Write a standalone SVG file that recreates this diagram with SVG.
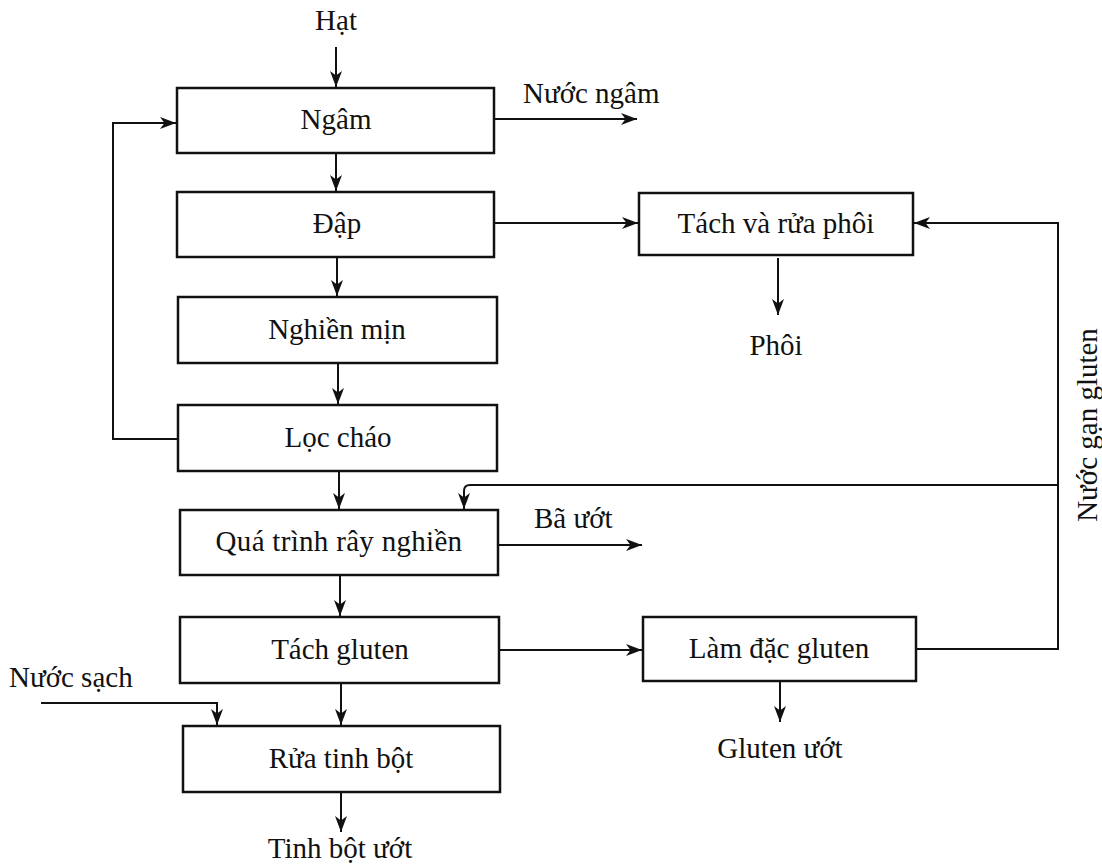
<svg xmlns="http://www.w3.org/2000/svg" width="1102" height="867" viewBox="0 0 1102 867">
<style>
.box{fill:#fff;stroke:#111;stroke-width:2.5}
.t{font-family:"Liberation Serif","Times New Roman",serif;font-size:29px;fill:#111}
.m{text-anchor:middle}
.c{fill:none;stroke:#111;stroke-width:2}
</style>
<defs>
<marker id="ah" markerUnits="userSpaceOnUse" markerWidth="18" markerHeight="14" refX="16" refY="6" orient="auto">
<path d="M0,0 L16,6 L0,12 L4.5,6 z" fill="#111"/>
</marker>
</defs>
<rect width="1102" height="867" fill="#fff"/>
<g id="connectors">
<path class="c" d="M336,47 V87" marker-end="url(#ah)"/>
<path class="c" d="M336,153 V191" marker-end="url(#ah)"/>
<path class="c" d="M337,257 V296" marker-end="url(#ah)"/>
<path class="c" d="M338,363 V404" marker-end="url(#ah)"/>
<path class="c" d="M339,471 V509" marker-end="url(#ah)"/>
<path class="c" d="M340,575 V616" marker-end="url(#ah)"/>
<path class="c" d="M341,683 V725" marker-end="url(#ah)"/>
<path class="c" d="M341,792 V832" marker-end="url(#ah)"/>
<path class="c" d="M178,439 H113 V123 H176" marker-end="url(#ah)"/>
<path class="c" d="M494,119 H637" marker-end="url(#ah)"/>
<path class="c" d="M494,223 H638" marker-end="url(#ah)"/>
<path class="c" d="M778,258 V315" marker-end="url(#ah)"/>
<path class="c" d="M498,545 H642" marker-end="url(#ah)"/>
<path class="c" d="M499,650 H642" marker-end="url(#ah)"/>
<path class="c" d="M780,681 V722" marker-end="url(#ah)"/>
<path class="c" d="M916,649 H1058 V223 H914" marker-end="url(#ah)"/>
<path class="c" d="M1058,485 H470 Q464,485 464,491 V509" marker-end="url(#ah)"/>
<path class="c" d="M41,703 H217 V725" marker-end="url(#ah)"/>
</g>
<g id="ngam"><rect class="box" x="177" y="88" width="317" height="65"/><text class="t m" x="336" y="129">Ngâm</text></g>
<g id="dap"><rect class="box" x="177" y="192" width="317" height="65"/><text class="t m" x="337" y="233">Đập</text></g>
<g id="nghien-min"><rect class="box" x="178" y="297" width="319" height="66"/><text class="t m" x="337" y="339">Nghiền mịn</text></g>
<g id="loc-chao"><rect class="box" x="178" y="405" width="319" height="66"/><text class="t m" x="338" y="447">Lọc cháo</text></g>
<g id="qua-trinh"><rect class="box" x="180" y="510" width="318" height="65"/><text class="t m" x="339" y="551" letter-spacing="0.3">Quá trình rây nghiền</text></g>
<g id="tach-gluten"><rect class="box" x="180" y="617" width="319" height="66"/><text class="t m" x="340" y="659">Tách gluten</text></g>
<g id="rua-tinh-bot"><rect class="box" x="183" y="726" width="317" height="66"/><text class="t m" x="341" y="768">Rửa tinh bột</text></g>
<g id="tach-rua-phoi"><rect class="box" x="639" y="193" width="274" height="62"/><text class="t m" x="776" y="233">Tách và rửa phôi</text></g>
<g id="lam-dac-gluten"><rect class="box" x="643" y="617" width="273" height="64"/><text class="t m" x="779" y="658">Làm đặc gluten</text></g>
<g id="labels">
<text class="t m" x="336" y="30">Hạt</text>
<text class="t" x="523" y="103">Nước ngâm</text>
<text class="t m" x="776" y="355">Phôi</text>
<text class="t" x="534" y="528">Bã ướt</text>
<text class="t m" x="780" y="758">Gluten ướt</text>
<text class="t" x="9" y="687">Nước sạch</text>
<text class="t m" x="340" y="858">Tinh bột ướt</text>
<text class="t m" transform="translate(1097,425) rotate(-90)">Nước gạn gluten</text>
</g>
</svg>
